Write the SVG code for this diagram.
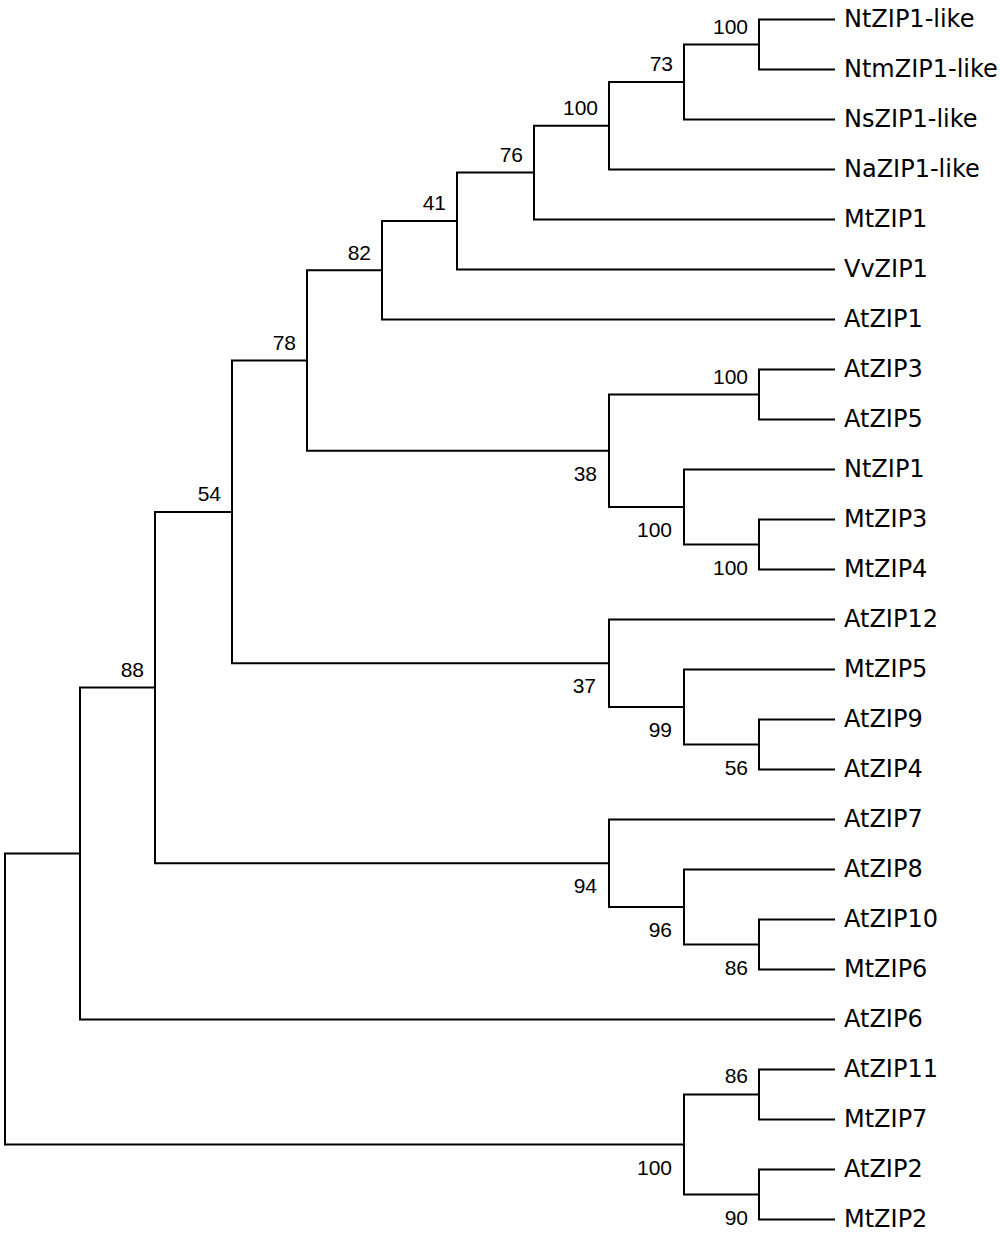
<svg xmlns="http://www.w3.org/2000/svg" width="1000" height="1234" viewBox="0 0 1000 1234">
<style>
.br{fill:none;stroke:#000;stroke-width:2;stroke-linecap:square}
.leaf{font-family:"DejaVu Sans",sans-serif;font-size:24px;fill:#000}
.bs{font-family:"Liberation Sans",Arial,sans-serif;font-size:21px;fill:#000;text-anchor:end}
</style>
<rect x="0" y="0" width="1000" height="1234" fill="#fff"/>
<g id="connectors">
<path class="br" d="M834 19.5H759V69.5H834"/>
<path class="br" d="M759 44.5H684V119.5H834"/>
<path class="br" d="M684 82H609V169.5H834"/>
<path class="br" d="M609 125.75H534V219.5H834"/>
<path class="br" d="M534 172.6H457V269.5H834"/>
<path class="br" d="M457 221H382V319.5H834"/>
<path class="br" d="M834 369.5H759V419.5H834"/>
<path class="br" d="M834 519.5H759V569.5H834"/>
<path class="br" d="M834 469.5H684V544.5H759"/>
<path class="br" d="M759 394.5H609V507H684"/>
<path class="br" d="M382 270.3H307V450.75H609"/>
<path class="br" d="M834 719.5H759V769.5H834"/>
<path class="br" d="M834 669.5H684V744.5H759"/>
<path class="br" d="M834 619.5H609V707H684"/>
<path class="br" d="M307 360.5H232V663.25H609"/>
<path class="br" d="M834 919.5H759V969.5H834"/>
<path class="br" d="M834 869.5H684V944.5H759"/>
<path class="br" d="M834 819.5H609V907H684"/>
<path class="br" d="M232 512H155V863.25H609"/>
<path class="br" d="M155 687.6H80V1019.5H834"/>
<path class="br" d="M834 1069.5H759V1119.5H834"/>
<path class="br" d="M834 1169.5H759V1219.5H834"/>
<path class="br" d="M759 1094.5H684V1194.5H759"/>
<path class="br" d="M80 853.5H5V1144.5H684"/>
</g>
<g id="leaf-NtZIP1-like"><text class="leaf" x="844" y="26.5">NtZIP1-like</text></g>
<g id="leaf-NtmZIP1-like"><text class="leaf" x="844" y="76.5">NtmZIP1-like</text></g>
<g id="leaf-NsZIP1-like"><text class="leaf" x="844" y="126.5">NsZIP1-like</text></g>
<g id="leaf-NaZIP1-like"><text class="leaf" x="844" y="176.5">NaZIP1-like</text></g>
<g id="leaf-MtZIP1"><text class="leaf" x="844" y="226.5">MtZIP1</text></g>
<g id="leaf-VvZIP1"><text class="leaf" x="844" y="276.5">VvZIP1</text></g>
<g id="leaf-AtZIP1"><text class="leaf" x="844" y="326.5">AtZIP1</text></g>
<g id="leaf-AtZIP3"><text class="leaf" x="844" y="376.5">AtZIP3</text></g>
<g id="leaf-AtZIP5"><text class="leaf" x="844" y="426.5">AtZIP5</text></g>
<g id="leaf-NtZIP1"><text class="leaf" x="844" y="476.5">NtZIP1</text></g>
<g id="leaf-MtZIP3"><text class="leaf" x="844" y="526.5">MtZIP3</text></g>
<g id="leaf-MtZIP4"><text class="leaf" x="844" y="576.5">MtZIP4</text></g>
<g id="leaf-AtZIP12"><text class="leaf" x="844" y="626.5">AtZIP12</text></g>
<g id="leaf-MtZIP5"><text class="leaf" x="844" y="676.5">MtZIP5</text></g>
<g id="leaf-AtZIP9"><text class="leaf" x="844" y="726.5">AtZIP9</text></g>
<g id="leaf-AtZIP4"><text class="leaf" x="844" y="776.5">AtZIP4</text></g>
<g id="leaf-AtZIP7"><text class="leaf" x="844" y="826.5">AtZIP7</text></g>
<g id="leaf-AtZIP8"><text class="leaf" x="844" y="876.5">AtZIP8</text></g>
<g id="leaf-AtZIP10"><text class="leaf" x="844" y="926.5">AtZIP10</text></g>
<g id="leaf-MtZIP6"><text class="leaf" x="844" y="976.5">MtZIP6</text></g>
<g id="leaf-AtZIP6"><text class="leaf" x="844" y="1026.5">AtZIP6</text></g>
<g id="leaf-AtZIP11"><text class="leaf" x="844" y="1076.5">AtZIP11</text></g>
<g id="leaf-MtZIP7"><text class="leaf" x="844" y="1126.5">MtZIP7</text></g>
<g id="leaf-AtZIP2"><text class="leaf" x="844" y="1176.5">AtZIP2</text></g>
<g id="leaf-MtZIP2"><text class="leaf" x="844" y="1226.5">MtZIP2</text></g>
<g id="node-n1"><text class="bs" x="748" y="33.5">100</text></g>
<g id="node-n2"><text class="bs" x="673" y="71">73</text></g>
<g id="node-n3"><text class="bs" x="598" y="114.5">100</text></g>
<g id="node-n4"><text class="bs" x="523" y="161.5">76</text></g>
<g id="node-n5"><text class="bs" x="446" y="210">41</text></g>
<g id="node-n6"><text class="bs" x="371" y="259.5">82</text></g>
<g id="node-n7"><text class="bs" x="296" y="349.5">78</text></g>
<g id="node-n8"><text class="bs" x="221" y="501">54</text></g>
<g id="node-n9"><text class="bs" x="144" y="676.5">88</text></g>
<g id="node-n10"><text class="bs" x="748" y="383.5">100</text></g>
<g id="node-n11"><text class="bs" x="597" y="480.5">38</text></g>
<g id="node-n12"><text class="bs" x="672" y="537">100</text></g>
<g id="node-n13"><text class="bs" x="748" y="574.5">100</text></g>
<g id="node-n14"><text class="bs" x="596" y="693">37</text></g>
<g id="node-n15"><text class="bs" x="672" y="737">99</text></g>
<g id="node-n16"><text class="bs" x="748" y="774.5">56</text></g>
<g id="node-n17"><text class="bs" x="597" y="893">94</text></g>
<g id="node-n18"><text class="bs" x="672" y="937">96</text></g>
<g id="node-n19"><text class="bs" x="748" y="974.5">86</text></g>
<g id="node-n20"><text class="bs" x="748" y="1083">86</text></g>
<g id="node-n21"><text class="bs" x="672" y="1174.5">100</text></g>
<g id="node-n22"><text class="bs" x="748" y="1224.5">90</text></g>
<g id="node-n23"></g>
<g id="node-root"></g>
</svg>
